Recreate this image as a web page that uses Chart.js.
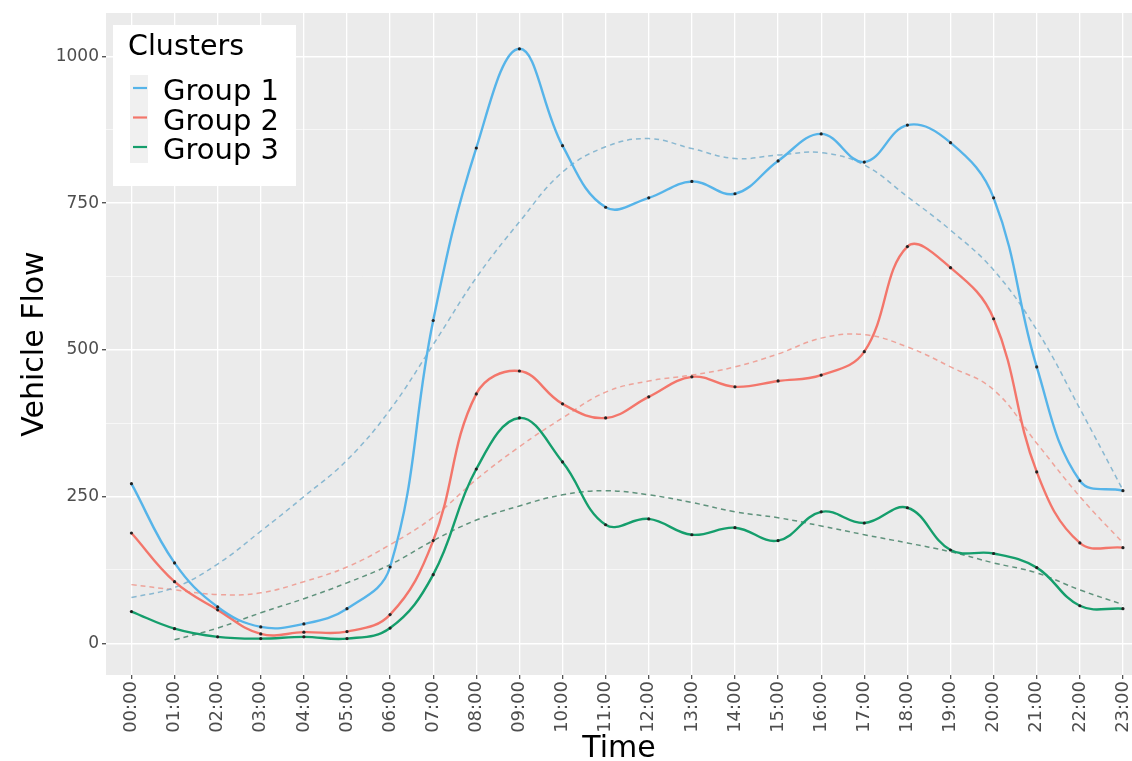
<!DOCTYPE html>
<html>
<head>
<meta charset="utf-8">
<script src="https://cdn.jsdelivr.net/npm/chart.js@4.4.1/dist/chart.umd.min.js"></script>
<style>
    html, body { margin: 0; padding: 0; background: #fff; }
    #wrap { position: relative; width: 1132px; height: 761px; }
</style>
</head>
<body>
<div id="wrap"><canvas id="flowChart" width="1132" height="761"></canvas></div>
<script>
        // Values
        const hours = ['00:00', '01:00', '02:00', '03:00', '04:00', '05:00', '06:00', '07:00',
                       '08:00', '09:00', '10:00', '11:00', '12:00', '13:00', '14:00', '15:00',
                       '16:00', '17:00', '18:00', '19:00', '20:00', '21:00', '22:00', '23:00'];
        const groups = ['Group 1', 'Group 2', 'Group 3'];

        const group1 = [272, 137, 62, 28, 33, 59, 130, 550, 844, 1013, 848, 743,
                        759, 787, 766, 822, 868, 820, 883, 853, 759, 471, 277, 260];
        const group2 = [188, 105, 57, 16, 19, 20, 49, 175, 425, 464, 408, 384,
                        420, 454, 437, 447, 457, 497, 676, 640, 553, 292, 171, 163];
        const group3 = [54, 25, 11, 8, 11, 8, 26, 117, 297, 384, 309, 202,
                        212, 185, 197, 175, 224, 205, 231, 159, 153, 129, 64, 59];

        // smoothed trend curves (dashed)
        const trend1 = [78, 95, 135, 191, 250, 312, 398, 509, 623, 718, 803, 846,
                        860, 843, 826, 832, 836, 815, 761, 704, 636, 534, 400, 261];
        const trend2 = [100, 91, 83, 86, 105, 130, 168, 215, 279, 335, 384, 428,
                        447, 457, 471, 493, 520, 526, 505, 471, 432, 341, 250, 171];
        const trend3 = [null, 6, 26, 52, 76, 103, 134, 175, 210, 234, 253, 260,
                        253, 240, 224, 214, 200, 185, 171, 156, 137, 120, 91, 66];

        const yTickValues = [0, 250, 500, 750, 1000];
        const yGridValues = [0, 125, 250, 375, 500, 625, 750, 875, 1000];

        const lineColors = ['#56B4E9', '#F3766B', '#159E6C'];
        const trendColors = ['rgba(120, 175, 205, 0.85)', 'rgba(238, 150, 140, 0.85)', 'rgba(70, 130, 105, 0.85)'];

        const toPoints = arr => arr.map((v, i) => ({ x: i, y: v }));

        const panelBackground = {
            id: 'panelBackground',
            beforeDraw(chart) {
                const { ctx, chartArea: a } = chart;
                ctx.save();
                ctx.fillStyle = '#EBEBEB';
                ctx.fillRect(a.left, a.top, a.right - a.left, a.bottom - a.top);
                ctx.restore();
            }
        };

        // ggplot-style legend box inside the panel
        const clusterLegend = {
            id: 'clusterLegend',
            afterDatasetsDraw(chart) {
                const c = chart.ctx;
                c.save();
                c.fillStyle = '#fff';
                c.fillRect(113, 25, 183, 161);
                c.fillStyle = '#000';
                c.textBaseline = 'alphabetic';
                c.font = '28.5px "DejaVu Sans"';
                c.fillText('Clusters', 128, 55);
                c.fillStyle = '#F0F0F0';
                c.fillRect(130, 75, 18, 88);
                c.font = '29px "DejaVu Sans"';
                groups.forEach((g, i) => {
                    const y = 88 + i * 29.5;
                    c.strokeStyle = lineColors[i];
                    c.lineWidth = 2.2;
                    c.beginPath();
                    c.moveTo(133, y);
                    c.lineTo(147, y);
                    c.stroke();
                    c.fillStyle = '#000';
                    c.fillText(g, 163, 100 + i * 29.5);
                });
                c.restore();
            }
        };

        const solidSet = (i, values) => ({
            label: groups[i],
            data: toPoints(values),
            borderColor: lineColors[i],
            backgroundColor: lineColors[i],
            borderWidth: 2.4,
            tension: 0.4,
            pointRadius: 1.6,
            pointBorderWidth: 0,
            pointBackgroundColor: '#222',
            order: 1
        });

        const trendSet = (i, values) => ({
            label: groups[i] + ' trend',
            data: toPoints(values),
            borderColor: trendColors[i],
            borderWidth: 1.5,
            borderDash: [5, 4],
            tension: 0.4,
            pointRadius: 0,
            order: 2
        });

        const ctx = document.getElementById('flowChart').getContext('2d');

        const chart = new Chart(ctx, {
            type: 'line',
            data: {
                datasets: [
                    solidSet(0, group1),
                    solidSet(1, group2),
                    solidSet(2, group3),
                    trendSet(0, trend1),
                    trendSet(1, trend2),
                    trendSet(2, trend3)
                ]
            },
            plugins: [panelBackground, clusterLegend],
            options: {
                responsive: false,
                animation: false,
                devicePixelRatio: 1,
                layout: { padding: { top: 13, right: 0, bottom: 0, left: 0 }, autoPadding: false },
                plugins: {
                    legend: { display: false },
                    tooltip: { enabled: false }
                },
                scales: {
                    x: {
                        type: 'linear',
                        min: -0.59,
                        max: 23.21,
                        afterBuildTicks: s => { s.ticks = hours.map((h, i) => ({ value: i })); },
                        afterFit: s => {
                            s.height = 86;
                            s.paddingLeft = 0;
                            s.paddingRight = 0;
                        },
                        border: { display: false },
                        grid: { color: '#fff', lineWidth: 1.3, tickColor: '#555', tickLength: 4 },
                        ticks: {
                            autoSkip: false,
                            maxRotation: 90,
                            minRotation: 90,
                            padding: 2,
                            color: '#4D4D4D',
                            font: { family: 'DejaVu Sans', size: 18 },
                            callback: v => hours[v]
                        },
                        title: {
                            display: true,
                            text: 'Time',
                            color: '#000',
                            font: { family: 'DejaVu Sans', size: 30 },
                            padding: { top: 0, bottom: -6 }
                        }
                    },
                    y: {
                        type: 'linear',
                        min: -54,
                        max: 1074,
                        afterBuildTicks: s => { s.ticks = yGridValues.map(v => ({ value: v })); },
                        afterFit: s => {
                            s.width = 106;
                            s.paddingTop = 0;
                            s.paddingBottom = 0;
                        },
                        border: { display: false },
                        grid: {
                            color: '#fff',
                            lineWidth: c => (c.tick && yTickValues.includes(c.tick.value)) ? 1.4 : 0.6,
                            tickColor: c => (c.tick && yTickValues.includes(c.tick.value)) ? '#555' : 'rgba(0,0,0,0)',
                            tickLength: 4
                        },
                        ticks: {
                            padding: 3,
                            color: '#4D4D4D',
                            font: { family: 'DejaVu Sans', size: 17 },
                            callback: v => yTickValues.includes(v) ? String(v) : ''
                        },
                        title: {
                            display: true,
                            text: 'Vehicle Flow',
                            color: '#000',
                            font: { family: 'DejaVu Sans', size: 30 },
                            padding: { top: 17, bottom: 0 }
                        }
                    }
                }
            }
        });
</script>
</body>
</html>
